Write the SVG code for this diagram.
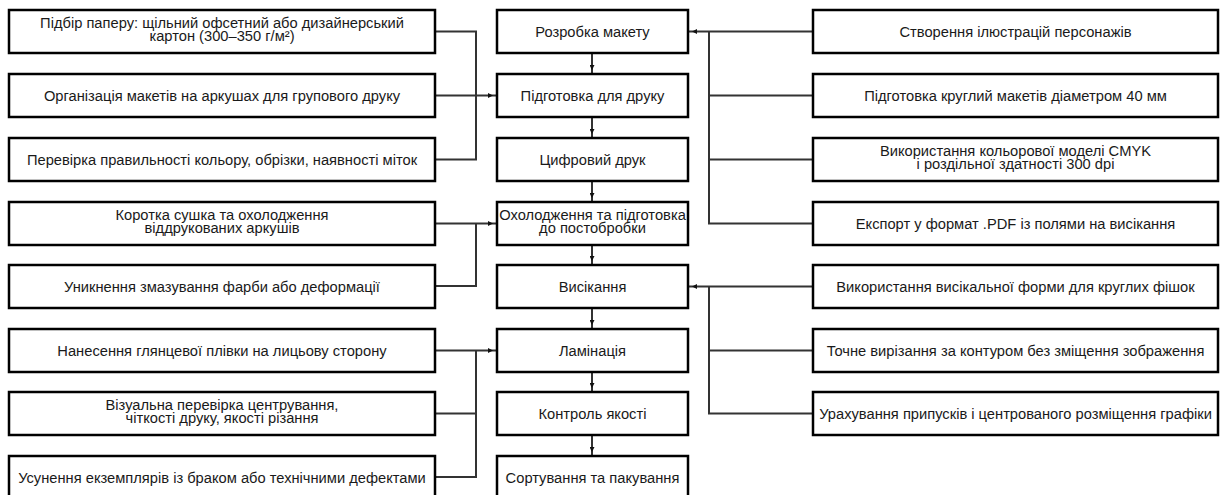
<svg xmlns="http://www.w3.org/2000/svg" width="1222" height="495" viewBox="0 0 1222 495">
<style>
.box{fill:#fff;stroke:#000;stroke-width:2.5}
.t{font-family:"Liberation Sans",Arial,sans-serif;font-size:14.7px;fill:#1a1a1a;text-anchor:middle}
.c{fill:none;stroke:#333;stroke-width:2}
</style>
<defs>
<marker id="ah" markerUnits="userSpaceOnUse" viewBox="0 0 5 5" markerWidth="5" markerHeight="5" refX="9" refY="2.5" orient="auto">
<path d="M0,0 L5,2.5 L0,5 z" fill="#111"/>
</marker>
</defs>
<rect width="1222" height="495" fill="#fff"/>
<g id="connectors">
<path class="c" d="M435,31.5 H476 V159.5 H435"/>
<path class="c" d="M435,95.5 H497" marker-end="url(#ah)"/>
<path class="c" d="M435,223.5 H497" marker-end="url(#ah)"/>
<path class="c" d="M435,286 H476 V223.5"/>
<path class="c" d="M435,350.5 H497" marker-end="url(#ah)"/>
<path class="c" d="M476,350.5 V477 H435"/>
<path class="c" d="M435,413.5 H476"/>
<path class="c" d="M813,31.5 H688" marker-end="url(#ah)"/>
<path class="c" d="M709,31.5 V223.5 H813"/>
<path class="c" d="M709,95.5 H813"/>
<path class="c" d="M709,159.5 H813"/>
<path class="c" d="M813,286.5 H688" marker-end="url(#ah)"/>
<path class="c" d="M709,286.5 V413.5 H813"/>
<path class="c" d="M709,350.5 H813"/>
<path class="c" d="M592,53 V74" marker-end="url(#ah)"/>
<path class="c" d="M592,117 V138" marker-end="url(#ah)"/>
<path class="c" d="M592,181 V202" marker-end="url(#ah)"/>
<path class="c" d="M592,245 V265" marker-end="url(#ah)"/>
<path class="c" d="M592,308 V329" marker-end="url(#ah)"/>
<path class="c" d="M592,372 V392" marker-end="url(#ah)"/>
<path class="c" d="M592,435 V456" marker-end="url(#ah)"/>
</g>
<g id="l1"><rect class="box" x="9" y="10" width="426" height="43"/><text class="t" x="222" y="28">Підбір паперу: щільний офсетний або дизайнерський</text><text class="t" x="222" y="41">картон (300–350 г/м²)</text></g>
<g id="l2"><rect class="box" x="9" y="74" width="426" height="43"/><text class="t" x="222" y="100.5">Організація макетів на аркушах для групового друку</text></g>
<g id="l3"><rect class="box" x="9" y="138" width="426" height="43"/><text class="t" x="222" y="164.5">Перевірка правильності кольору, обрізки, наявності міток</text></g>
<g id="l4"><rect class="box" x="9" y="202" width="426" height="43"/><text class="t" x="222" y="220">Коротка сушка та охолодження</text><text class="t" x="222" y="233">віддрукованих аркушів</text></g>
<g id="l5"><rect class="box" x="9" y="265" width="426" height="43"/><text class="t" x="222" y="291.5">Уникнення змазування фарби або деформації</text></g>
<g id="l6"><rect class="box" x="9" y="329" width="426" height="43"/><text class="t" x="222" y="355.5">Нанесення глянцевої плівки на лицьову сторону</text></g>
<g id="l7"><rect class="box" x="9" y="392" width="426" height="43"/><text class="t" x="222" y="410">Візуальна перевірка центрування,</text><text class="t" x="222" y="423">чіткості друку, якості різання</text></g>
<g id="l8"><rect class="box" x="9" y="456" width="426" height="43"/><text class="t" x="222" y="482.5">Усунення екземплярів із браком або технічними дефектами</text></g>
<g id="m1"><rect class="box" x="497" y="10" width="191" height="43"/><text class="t" x="592.5" y="36.5">Розробка макету</text></g>
<g id="m2"><rect class="box" x="497" y="74" width="191" height="43"/><text class="t" x="592.5" y="100.5">Підготовка для друку</text></g>
<g id="m3"><rect class="box" x="497" y="138" width="191" height="43"/><text class="t" x="592.5" y="164.5">Цифровий друк</text></g>
<g id="m4"><rect class="box" x="497" y="202" width="191" height="43"/><text class="t" x="592.5" y="220">Охолодження та підготовка</text><text class="t" x="592.5" y="233">до постобробки</text></g>
<g id="m5"><rect class="box" x="497" y="265" width="191" height="43"/><text class="t" x="592.5" y="291.5">Висікання</text></g>
<g id="m6"><rect class="box" x="497" y="329" width="191" height="43"/><text class="t" x="592.5" y="355.5">Ламінація</text></g>
<g id="m7"><rect class="box" x="497" y="392" width="191" height="43"/><text class="t" x="592.5" y="418.5">Контроль якості</text></g>
<g id="m8"><rect class="box" x="497" y="456" width="191" height="43"/><text class="t" x="592.5" y="482.5">Сортування та пакування</text></g>
<g id="r1"><rect class="box" x="813" y="10" width="405" height="43"/><text class="t" x="1015.5" y="36.5">Створення ілюстрацій персонажів</text></g>
<g id="r2"><rect class="box" x="813" y="74" width="405" height="43"/><text class="t" x="1015.5" y="100.5">Підготовка круглий макетів діаметром 40 мм</text></g>
<g id="r3"><rect class="box" x="813" y="138" width="405" height="43"/><text class="t" x="1015.5" y="156">Використання кольорової моделі CMYK</text><text class="t" x="1015.5" y="169">і роздільної здатності 300 dpi</text></g>
<g id="r4"><rect class="box" x="813" y="202" width="405" height="43"/><text class="t" x="1015.5" y="228.5">Експорт у формат .PDF із полями на висікання</text></g>
<g id="r5"><rect class="box" x="813" y="265" width="405" height="43"/><text class="t" x="1015.5" y="291.5">Використання висікальної форми для круглих фішок</text></g>
<g id="r6"><rect class="box" x="813" y="329" width="405" height="43"/><text class="t" x="1015.5" y="355.5">Точне вирізання за контуром без зміщення зображення</text></g>
<g id="r7"><rect class="box" x="813" y="392" width="405" height="43"/><text class="t" x="1015.5" y="418.5">Урахування припусків і центрованого розміщення графіки</text></g>
</svg>
